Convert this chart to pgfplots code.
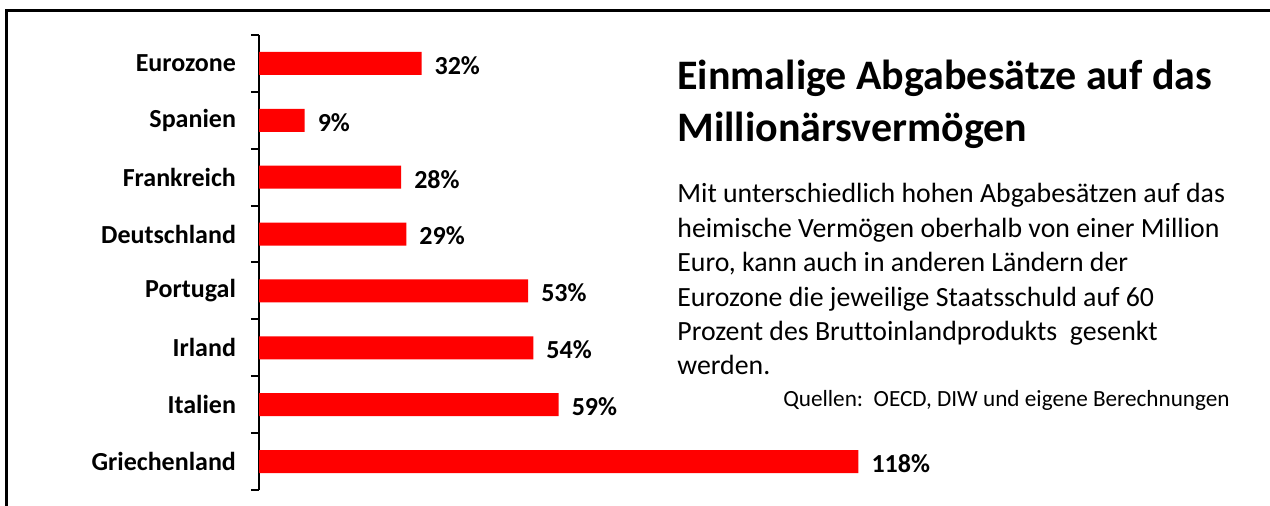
\documentclass[border=0pt]{standalone}
\usepackage{pgfplots}
\pgfplotsset{compat=1.18}
\usepackage{fontspec}
\setmainfont{Carlito}[Ligatures=NoCommon]
\definecolor{barred}{RGB}{255,0,0}
\begin{document}
\begin{tikzpicture}
% canvas in image pixels (1 px = 0.5pt), y measured upward
\begin{scope}[x=0.5pt,y=0.5pt]
  \path[use as bounding box] (0,0) rectangle (1270,506);
  \fill[white] (0,0) rectangle (1270,506);
  \draw[line width=1.5pt] (6,0) -- (6,495) -- (1270,495);
  \node[anchor=base west,inner sep=0,font=\fontsize{21}{25}\selectfont\bfseries] at (677,416) {Einmalige Abgabesätze auf das};
  \node[anchor=base west,inner sep=0,font=\fontsize{21}{25}\selectfont\bfseries] at (677,364) {Millionärsvermögen};
  \foreach \t/\b in {{Mit unterschiedlich hohen Abgabesätzen auf das}/303,
                     {heimische Vermögen oberhalb von einer Million}/268.6,
                     {Euro, kann auch in anderen Ländern der}/234.2,
                     {Eurozone die jeweilige Staatsschuld auf 60}/199.8,
                     {Prozent des Bruttoinlandprodukts~ gesenkt}/165.4,
                     {werden.}/131}
    \node[anchor=base west,inner sep=0,font=\fontsize{13.9}{16}\selectfont] at (677,\b) {\t};
  \node[anchor=base east,inner sep=0,font=\fontsize{11.6}{13}\selectfont] at (1230,99) {Quellen:\ \ OECD, DIW und eigene Berechnungen};
\end{scope}
\begin{axis}[
  at={(129.5pt,8pt)}, anchor=south west,
  scale only axis, width=304.8pt, height=227.5pt,
  xmin=0, xmax=120, ymin=0.5, ymax=8.5,
  xbar, bar width=11.5pt,
  axis x line=none,
  axis y line*=left,
  y axis line style={line width=1pt},
  ytick={1,...,8},
  yticklabels={Griechenland,Italien,Irland,Portugal,Deutschland,Frankreich,Spanien,Eurozone},
  major tick length=0pt,
  minor ytick={0.5,1.5,...,8.5},
  minor tick length=4pt,
  tick align=outside,
  minor tick style={line width=1pt,black},
  yticklabel style={font=\fontsize{13}{15}\selectfont\bfseries, xshift=-8pt},
  /pgf/number format/assume math mode=true,
  point meta=x,
  nodes near coords={\pgfmathprintnumber{\pgfplotspointmeta}\%},
  nodes near coords style={font=\fontsize{13}{15}\selectfont\bfseries, anchor=west, xshift=3pt, yshift=-1pt},
  clip=false,
]
\addplot[fill=barred, draw=none] coordinates {
  (118,1) (59,2) (54,3) (53,4) (29,5) (28,6) (9,7) (32,8)
};
\end{axis}
\end{tikzpicture}
\end{document}
